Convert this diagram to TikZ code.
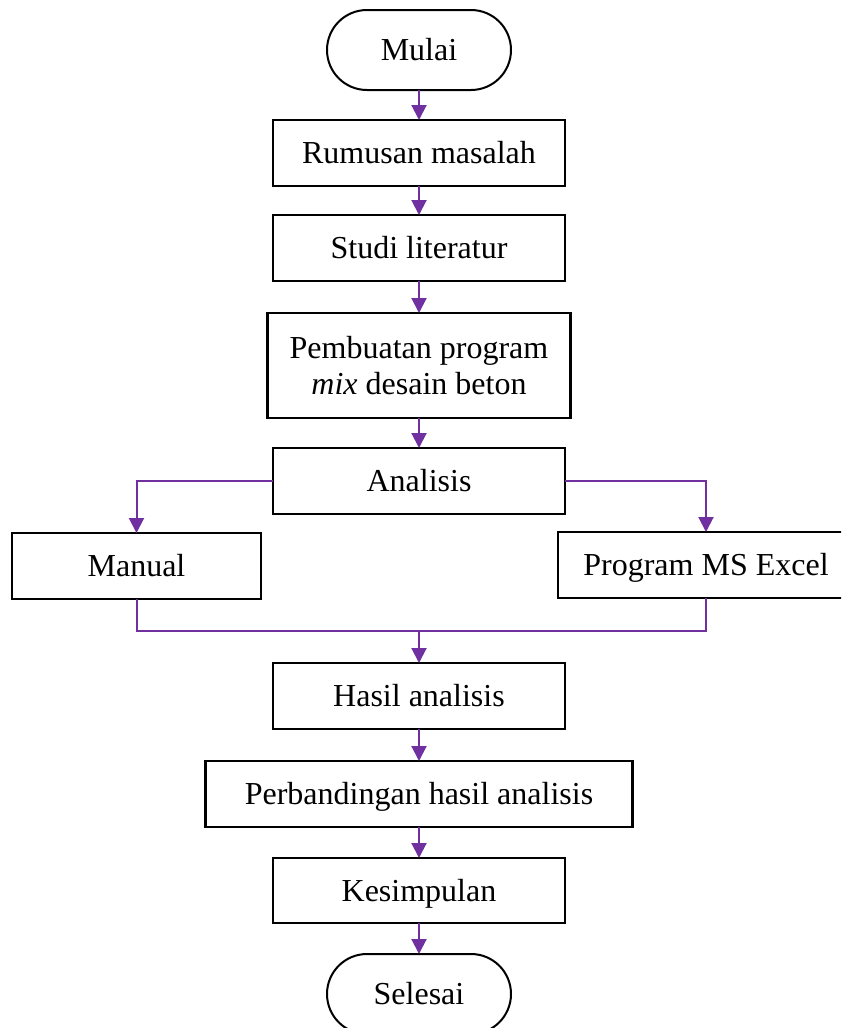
\documentclass[tikz,border=0pt]{standalone}
\usepackage{fontspec}
\setmainfont{Liberation Serif}
\usetikzlibrary{arrows.meta}
\definecolor{arrowpurple}{HTML}{7030A0}
\begin{document}
\begin{tikzpicture}[x=1pt,y=-1pt,
  every node/.style={font=\fontsize{32pt}{36pt}\selectfont, inner sep=0pt, outer sep=0pt},
  procbox/.style={draw=black, line width=2.2pt, minimum height=66pt, text height=28pt, text depth=7pt},
  termbox/.style={draw=black, line width=2pt, rounded corners=40pt, minimum width=184pt, minimum height=80pt, text height=28pt, text depth=7pt},
  arr/.style={draw=arrowpurple, line width=2pt, -{Triangle[width=15pt,length=15pt]}},
  link/.style={draw=arrowpurple, line width=2pt}
]
\useasboundingbox (0,0) rectangle (841,1028);
\clip (0,0) rectangle (841,1028);
\fill[white] (0,0) rectangle (841,1028);

\node[termbox] (mulai) at (419,50) {Mulai};
\node[procbox, minimum width=292pt] (rum) at (419,153) {Rumusan masalah};
\node[procbox, minimum width=292pt] (studi) at (419,248) {Studi literatur};
\node[draw=black, line width=2.2pt, minimum width=303pt, minimum height=105pt, align=center] (pem) at (419,365.5) {Pembuatan program\\\textit{mix} desain beton};
\node[procbox, minimum width=292pt] (ana) at (419,481) {Analisis};
\node[procbox, minimum width=249pt] (man) at (136.5,566) {Manual};
\node[procbox, minimum width=296pt] (prog) at (706,565) {Program MS Excel};
\node[procbox, minimum width=292pt] (has) at (419,696) {Hasil analisis};
\node[procbox, minimum width=427pt] (per) at (419,794) {Perbandingan hasil analisis};
\node[procbox, minimum width=292pt, minimum height=65pt] (kes) at (419,890.5) {Kesimpulan};
\node[termbox] (sel) at (419,994) {Selesai};

\coordinate (j) at (419,631);

\draw[arr] (mulai) -- (rum);
\draw[arr] (rum) -- (studi);
\draw[arr] (studi) -- (pem.north -| studi.south);
\draw[arr] (pem.south -| ana.north) -- (ana);
\draw[arr] (ana.west) -| (man.north);
\draw[arr] (ana.east) -| (prog.north);
\draw[link] (man.south) |- (j);
\draw[link] (prog.south) |- (j);
\draw[arr] (j) -- (has.north);
\draw[arr] (has) -- (per.north -| has.south);
\draw[arr] (per.south -| kes.north) -- (kes);
\draw[arr] (kes) -- (sel);
\end{tikzpicture}
\end{document}
